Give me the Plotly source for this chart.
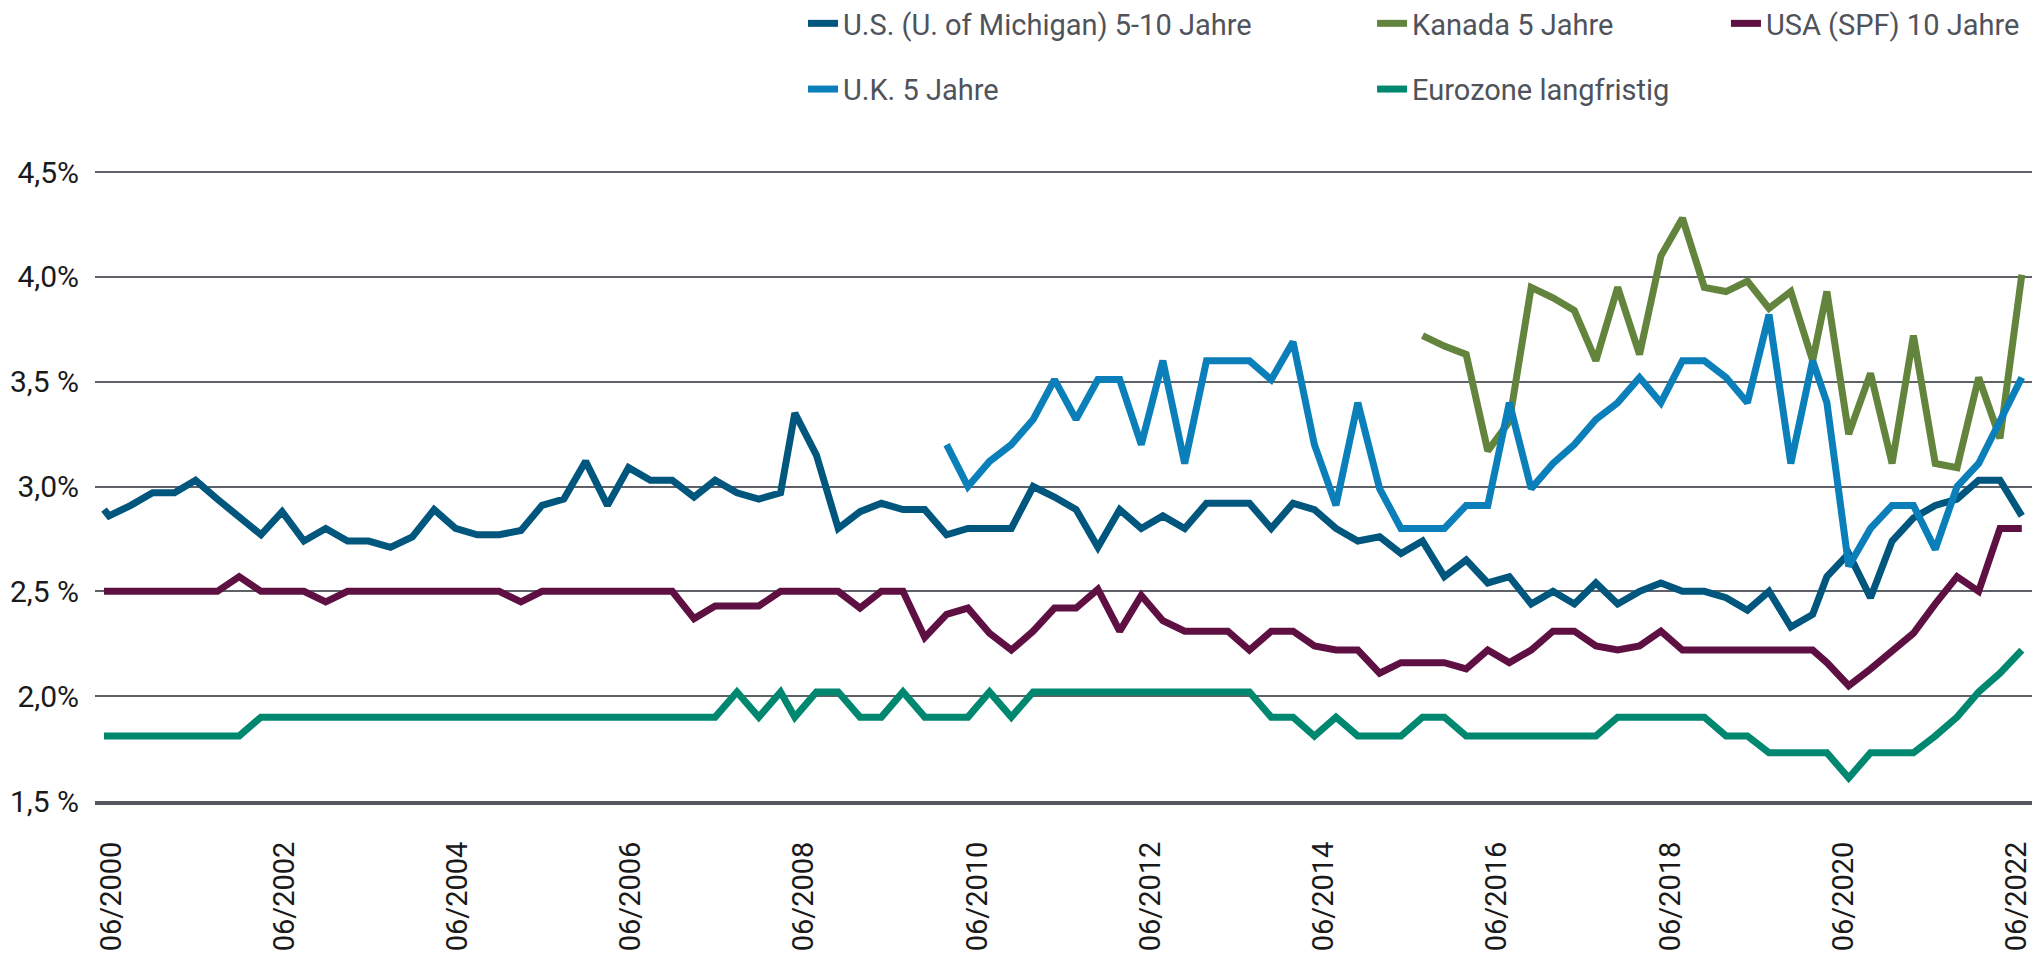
import pandas as pd
import plotly.graph_objects as go

# survey dates: one extra reading in April 2000, then quarterly with two short steps
first_date = ["2000-04-10"]
segments = [("2000-05-01", 32), ("2008-04-01", 48), ("2020-03-01", 10)]
dates = first_date + [d.strftime("%Y-%m-%d")
                      for start, n in segments
                      for d in pd.date_range(start, periods=n, freq="3MS")]

us_michigan = [
    2.89, 2.86, 2.91, 2.97, 2.97, 3.03, 2.94, 2.86, 2.77, 2.88, 2.74, 2.80,
    2.74, 2.74, 2.71, 2.76, 2.89, 2.80, 2.77, 2.77, 2.79, 2.91, 2.94, 3.12,
    2.91, 3.09, 3.03, 3.03, 2.95, 3.03, 2.97, 2.94, 2.97,
    3.35, 3.15, 2.80, 2.88, 2.92, 2.89, 2.89, 2.77, 2.80, 2.80, 2.80, 3.00,
    2.95, 2.89, 2.71, 2.89, 2.80, 2.86, 2.80, 2.92, 2.92, 2.92, 2.80, 2.92,
    2.89, 2.80, 2.74, 2.76, 2.68, 2.74, 2.57, 2.65, 2.54, 2.57, 2.44, 2.50,
    2.44, 2.54, 2.44, 2.50, 2.54, 2.50, 2.50, 2.47, 2.41, 2.50, 2.33, 2.39,
    2.57, 2.68, 2.47, 2.74, 2.85, 2.91, 2.94, 3.03, 3.03, 2.86,
]

kanada = [None] * 62 + [
    3.72, 3.67, 3.63, 3.17, 3.31, 3.95, 3.90, 3.84, 3.60, 3.95, 3.63, 4.10,
    4.28, 3.95, 3.93, 3.98, 3.85, 3.93, 3.60, 3.93,
    3.25, 3.54, 3.11, 3.72, 3.11, 3.09, 3.52, 3.23, 4.01, None,
]

usa_spf = [
    2.50, 2.50, 2.50, 2.50, 2.50, 2.50, 2.50, 2.57, 2.50, 2.50, 2.50, 2.45,
    2.50, 2.50, 2.50, 2.50, 2.50, 2.50, 2.50, 2.50, 2.45, 2.50, 2.50, 2.50,
    2.50, 2.50, 2.50, 2.50, 2.37, 2.43, 2.43, 2.43, 2.50,
    2.50, 2.50, 2.50, 2.42, 2.50, 2.50, 2.28, 2.39, 2.42, 2.30, 2.22, 2.31,
    2.42, 2.42, 2.51, 2.31, 2.48, 2.36, 2.31, 2.31, 2.31, 2.22, 2.31, 2.31,
    2.24, 2.22, 2.22, 2.11, 2.16, 2.16, 2.16, 2.13, 2.22, 2.16, 2.22, 2.31,
    2.31, 2.24, 2.22, 2.24, 2.31, 2.22, 2.22, 2.22, 2.22, 2.22, 2.22, 2.22,
    2.16, 2.05, 2.13, 2.22, 2.30, 2.44, 2.57, 2.50, 2.80, 2.80,
]

uk = [None] * 40 + [
    3.20, 3.00, 3.12, 3.20, 3.32, 3.51, 3.32, 3.51, 3.51, 3.20, 3.60, 3.11,
    3.60, 3.60, 3.60, 3.51, 3.69, 3.20, 2.91, 3.40, 2.99, 2.80, 2.80, 2.80,
    2.91, 2.91, 3.40, 2.99, 3.11, 3.20, 3.32, 3.40, 3.52, 3.40, 3.60, 3.60,
    3.52, 3.40, 3.82, 3.11, 3.60, 3.40,
    2.62, 2.80, 2.91, 2.91, 2.70, 3.00, 3.11, 3.31, 3.52, 3.11,
]

eurozone = [
    1.81, 1.81, 1.81, 1.81, 1.81, 1.81, 1.81, 1.81, 1.90, 1.90, 1.90, 1.90,
    1.90, 1.90, 1.90, 1.90, 1.90, 1.90, 1.90, 1.90, 1.90, 1.90, 1.90, 1.90,
    1.90, 1.90, 1.90, 1.90, 1.90, 1.90, 2.02, 1.90, 2.02,
    1.90, 2.02, 2.02, 1.90, 1.90, 2.02, 1.90, 1.90, 1.90, 2.02, 1.90, 2.02,
    2.02, 2.02, 2.02, 2.02, 2.02, 2.02, 2.02, 2.02, 2.02, 2.02, 1.90, 1.90,
    1.81, 1.90, 1.81, 1.81, 1.81, 1.90, 1.90, 1.81, 1.81, 1.81, 1.81, 1.81,
    1.81, 1.81, 1.90, 1.90, 1.90, 1.90, 1.90, 1.81, 1.81, 1.73, 1.73, 1.73,
    1.73, 1.61, 1.73, 1.73, 1.73, 1.81, 1.90, 2.02, 2.11, 2.22,
]

y_ticks = [1.5, 2.0, 2.5, 3.0, 3.5, 4.0, 4.5]
y_labels = ["1,5 %", "2,0%", "2,5 %", "3,0%", "3,5 %", "4,0%", "4,5%"]
x_years = list(range(2000, 2023, 2))
x_ticks = [f"{y}-05-10" for y in x_years]
x_labels = [f"06/{y}" for y in x_years]

# name, values, colour, legend (column) it is listed in
series = [
    ("U.S. (U. of Michigan) 5-10 Jahre", us_michigan, "#00567d", "legend"),
    ("Kanada 5 Jahre", kanada, "#63843c", "legend2"),
    ("USA (SPF) 10 Jahre", usa_spf, "#5f1042", "legend3"),
    ("U.K. 5 Jahre", uk, "#0a7fba", "legend"),
    ("Eurozone langfristig", eurozone, "#00876f", "legend2"),
]

fig = go.Figure()
for name, vals, color, leg in series:
    fig.add_trace(go.Scatter(
        x=dates, y=vals, name=name, mode="lines",
        line=dict(color=color, width=7),
        connectgaps=False, legend=leg, legendgroup=name,
    ))

legend_style = dict(
    orientation="v", yanchor="top", y=1.2746, xanchor="left",
    font=dict(family="Roboto", size=29, color="#4f535b"),
    bgcolor="rgba(0,0,0,0)", tracegroupgap=25, traceorder="grouped",
    itemwidth=30,
)

fig.update_layout(
    width=2043, height=960,
    margin=dict(l=95, r=11, t=171, b=159, autoexpand=False),
    paper_bgcolor="white", plot_bgcolor="white",
    font=dict(family="Roboto", size=30, color="#1a1a1a"),
    hovermode=False,
    legend=dict(legend_style, x=0.3655),
    legend2=dict(legend_style, x=0.6593),
    legend3=dict(legend_style, x=0.8420),
    xaxis=dict(
        type="date", range=["2000-03-03", "2022-07-14"],
        tickmode="array", tickvals=x_ticks, ticktext=x_labels,
        tickangle=-90, tickfont=dict(family="Roboto", size=29, color="#1a1a1a"),
        showgrid=False, zeroline=False,
        showline=True, linecolor="#53575e", linewidth=4,
        ticks="outside", ticklen=25, tickcolor="rgba(0,0,0,0)",
    ),
    yaxis=dict(
        range=[1.5, 4.505],
        tickmode="array", tickvals=y_ticks, ticktext=y_labels,
        tickfont=dict(family="Roboto", size=30, color="#1a1a1a"),
        showgrid=True, gridcolor="#5e6168", gridwidth=2, zeroline=False,
        ticks="outside", ticklen=9, tickcolor="rgba(0,0,0,0)",
    ),
)

# drop the browser's default 8px page margin so the figure sits at the top-left corner
fig.write_html("out.html", config={"displayModeBar": False},
               post_script="document.body.style.margin = '0';")
